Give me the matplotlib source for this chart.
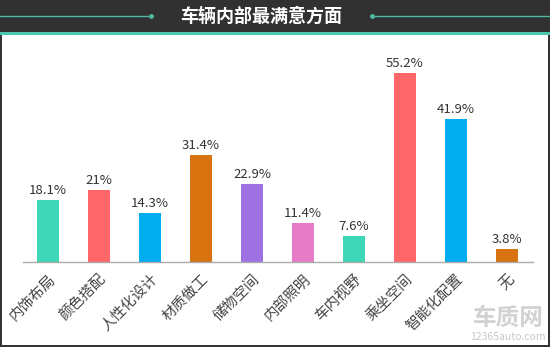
import matplotlib
matplotlib.use("Agg")
import matplotlib.pyplot as plt
from matplotlib.patches import Rectangle
from matplotlib.lines import Line2D

plt.rcParams['font.family'] = ['Noto Sans CJK SC', 'DejaVu Sans']

title = "车辆内部最满意方面"
categories = ["内饰布局", "颜色搭配", "人性化设计", "材质做工", "储物空间",
              "内部照明", "车内视野", "乘坐空间", "智能化配置", "无"]
values = [18.1, 21, 14.3, 31.4, 22.9, 11.4, 7.6, 55.2, 41.9, 3.8]
value_labels = ["18.1%", "21%", "14.3%", "31.4%", "22.9%",
                "11.4%", "7.6%", "55.2%", "41.9%", "3.8%"]
colors = ["#3dd6b6", "#ff6669", "#00adef", "#d9730f", "#9e70e2",
          "#e67bc8", "#3dd6b6", "#ff6669", "#00adef", "#d9730f"]

W, H = 550, 347
fig = plt.figure(figsize=(W / 100, H / 100), dpi=100)
fig.patch.set_facecolor("white")

def fx(px):
    return px / W

def fy(py):
    return 1 - py / H

# Header band
fig.add_artist(Rectangle((0, fy(32)), 1, 32 / H, transform=fig.transFigure,
                         facecolor="#313131", edgecolor="none", zorder=0))
fig.add_artist(Rectangle((0, fy(35)), 1, 3 / H, transform=fig.transFigure,
                         facecolor="#4cc6ad", edgecolor="none", zorder=1))
teal = "#4fb9a2"
fig.add_artist(Line2D([0, fx(152)], [fy(16), fy(16)], transform=fig.transFigure,
                      color=teal, lw=1.0))
fig.add_artist(Line2D([fx(151)], [fy(16)], transform=fig.transFigure,
                      color=teal, marker="o", ms=2.5))
fig.add_artist(Line2D([fx(371), 1], [fy(16), fy(16)], transform=fig.transFigure,
                      color=teal, lw=1.0))
fig.add_artist(Line2D([fx(372)], [fy(16)], transform=fig.transFigure,
                      color=teal, marker="o", ms=2.5))
fig.text(fx(261), fy(16.5), title, color="white", fontsize=13, fontweight="bold",
         ha="center", va="center")

# Panel border
for (x0, y0, w, h) in [(0, 35, 2, 312), (548, 35, 2, 312), (0, 345, 550, 2)]:
    fig.add_artist(Rectangle((fx(x0), fy(y0 + h)), w / W, h / H,
                             transform=fig.transFigure, facecolor="#333333",
                             edgecolor="none", zorder=2))

# Plot area
scale = 3.42  # px per percent
baseline = 262
ymax = 60
top_px = baseline - ymax * scale
ax = fig.add_axes([fx(22.5), fy(baseline), fx(532.5) - fx(22.5),
                   (baseline - top_px) / H])
ax.set_facecolor("none")
x = range(len(categories))
ax.bar(x, values, width=0.42, color=colors, zorder=2)
for xi, v, lab in zip(x, values, value_labels):
    ax.text(xi, v + 0.8, lab, ha="center", va="bottom", fontsize=9.5, color="#333333")
ax.set_xlim(-0.5, len(categories) - 0.5)
ax.set_ylim(0, ymax)
ax.set_yticks([])
ax.set_xticks(list(x))
ax.set_xticklabels(categories, rotation=45, ha="right", va="top",
                   rotation_mode="anchor", fontsize=10.5, color="#444444")
ax.tick_params(axis="x", length=0, pad=7)
for s in ["top", "right", "left"]:
    ax.spines[s].set_visible(False)
ax.spines["bottom"].set_color("#aaaaaa")
ax.spines["bottom"].set_linewidth(1.0)

# Site mark
fig.text(fx(508), fy(318), "车质网", fontsize=17, fontweight="bold",
         color="#d2d2d2", ha="center", va="center")
fig.text(fx(508), fy(337), "12365auto.com", fontsize=7.5,
         color="#c8c8c8", ha="center", va="center")

fig.savefig("out.png", dpi=100)
